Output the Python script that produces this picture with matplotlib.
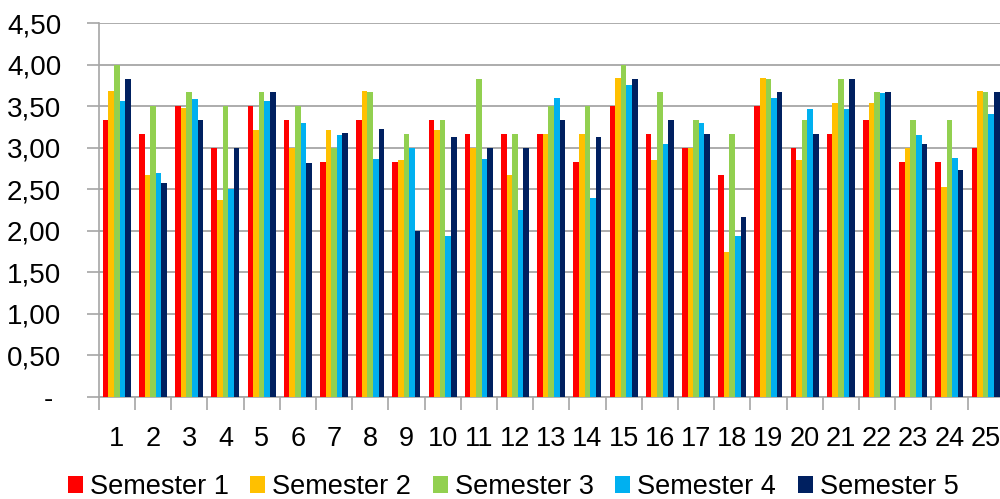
import matplotlib.pyplot as plt
import matplotlib.ticker as mticker
from matplotlib.patches import Patch
import numpy as np

plt.rcParams['font.family'] = ['Liberation Sans', 'DejaVu Sans']

# average scores per item, one list per semester
items = list(range(1, 26))
semester_1 = [3.33, 3.17, 3.50, 3.00, 3.50, 3.33, 2.83, 3.33, 2.83, 3.33,
              3.17, 3.17, 3.17, 2.83, 3.50, 3.17, 3.00, 2.67, 3.50, 3.00,
              3.17, 3.33, 2.83, 2.83, 3.00]
semester_2 = [3.68, 2.67, 3.48, 2.37, 3.21, 3.00, 3.21, 3.68, 2.85, 3.21,
              3.00, 2.67, 3.16, 3.16, 3.84, 2.85, 3.00, 1.74, 3.84, 2.85,
              3.54, 3.54, 3.00, 2.53, 3.68]
semester_3 = [4.00, 3.50, 3.67, 3.50, 3.67, 3.50, 3.00, 3.67, 3.17, 3.33,
              3.83, 3.17, 3.50, 3.50, 4.00, 3.67, 3.33, 3.17, 3.83, 3.33,
              3.83, 3.67, 3.33, 3.33, 3.67]
semester_4 = [3.56, 2.69, 3.58, 2.50, 3.56, 3.30, 3.15, 2.86, 3.00, 1.94,
              2.86, 2.25, 3.60, 2.40, 3.75, 3.05, 3.30, 1.94, 3.60, 3.46,
              3.46, 3.66, 3.15, 2.87, 3.41]
semester_5 = [3.83, 2.57, 3.33, 3.00, 3.67, 2.82, 3.18, 3.23, 2.00, 3.13,
              3.00, 3.00, 3.33, 3.13, 3.83, 3.33, 3.17, 2.17, 3.67, 3.17,
              3.83, 3.67, 3.05, 2.73, 3.67]

series = [semester_1, semester_2, semester_3, semester_4, semester_5]
labels = ['Semester 1', 'Semester 2', 'Semester 3', 'Semester 4', 'Semester 5']
colors = ['#ff0000', '#ffc000', '#92d050', '#00b0f0', '#002060']

fig = plt.figure(figsize=(10, 4.99), dpi=100)
ax = fig.add_axes([0.0987, 0.2044, 0.905, 0.7495])

x = np.array(items)
w = 0.155
for i, (vals, col) in enumerate(zip(series, colors)):
    ax.bar(x + (i - 2) * w, vals, width=w, color=col, zorder=3)

ax.set_xlim(0.5, 25.5)
ax.set_ylim(0, 4.5)
ax.set_yticks(np.arange(0, 4.51, 0.5))

def fmt(v, pos):
    if abs(v) < 1e-9:
        return '- '
    return f'{v:.2f}'.replace('.', ',')

ax.yaxis.set_major_formatter(mticker.FuncFormatter(fmt))
ax.grid(axis='y', color='#a6a6a6', lw=1.3, zorder=0)

ax.set_xticks(x)
ax.set_xticklabels([str(v) for v in items])
ax.set_xticks(np.arange(0.5, 25.6, 1), minor=True)
ax.tick_params(axis='x', which='major', length=0, pad=21, labelsize=19.5)
ax.tick_params(axis='x', which='minor', length=9, color='#a6a6a6', width=1.2)
ax.tick_params(axis='y', length=9, color='#a6a6a6', width=1.2, pad=18, labelsize=20)

for side in ['top', 'right']:
    ax.spines[side].set_visible(False)
for side in ['left', 'bottom']:
    ax.spines[side].set_color('#a6a6a6')
    ax.spines[side].set_linewidth(1.2)

handles = [Patch(facecolor=c, edgecolor='none') for c in colors]
fig.legend(handles, labels, loc='center', bbox_to_anchor=(0.513, 0.024),
           ncol=5, frameon=False, fontsize=19.5, handlelength=0.55, handleheight=0.55,
           handletextpad=0.26, columnspacing=0.8, borderaxespad=0)

fig.savefig('out.png', dpi=100)
